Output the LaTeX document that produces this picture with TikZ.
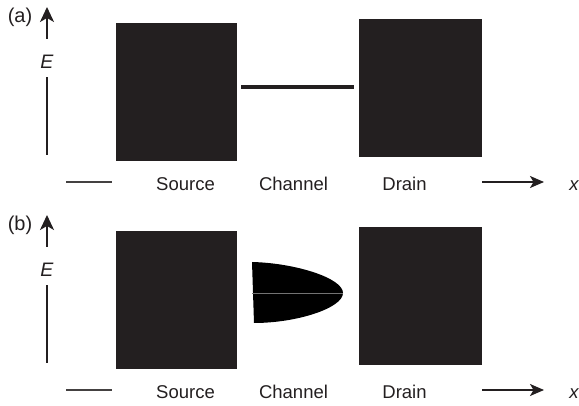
\documentclass[tikz,border=0pt]{standalone}
\usepackage{fontspec}
\setmainfont{Liberation Sans}
\usetikzlibrary{arrows.meta}
\definecolor{blk}{HTML}{231F20}
\begin{document}
\begin{tikzpicture}[x=1pt,y=-1pt,
  font=\fontsize{18.5}{22}\selectfont,
  block/.style={fill=blk, draw=none, inner sep=0pt, outer sep=0pt, anchor=north west},
  axisline/.style={line width=1.6pt, draw=blk},
  axisarrow/.style={line width=1.6pt, draw=blk, -{Stealth[length=15pt,width=14pt,inset=4pt]}},
  xarrow/.style={line width=1.6pt, draw=blk, -{Stealth[length=14pt,width=12pt,inset=3.5pt]}},
  dashline/.style={line width=1.4pt, draw=blk!85},
  lbl/.style={anchor=base, inner sep=0pt, text=blk}]
\useasboundingbox (0,0) rectangle (579,406);

\foreach \p/\dy in {a/0,b/208}{
  % blocks
  \node[block, minimum width=121pt, minimum height=138pt] (src\p) at (116,23+\dy) {};
  \node[block, minimum width=123pt, minimum height=138pt] (drn\p) at (359,19+\dy) {};
  % panel label
  \node[lbl, font=\fontsize{20}{24}\selectfont] (lab\p) at (20,23+\dy) {(\p)};
  % energy axis
  \coordinate (ybot\p) at (47,155+\dy);
  \coordinate (ylow\p) at (47,77+\dy);
  \coordinate (yhigh\p) at (47,39+\dy);
  \coordinate (ytop\p) at (47,7+\dy);
  \node[lbl, font=\fontsize{19.5}{24}\selectfont] (E\p) at (47,69+\dy) {\itshape E};
  \draw[axisline] (ybot\p) -- (ylow\p);
  \draw[axisarrow] (yhigh\p) -- (ytop\p);
  % position axis
  \coordinate (xl\p) at (66,182+\dy);
  \coordinate (xr\p) at (112,182+\dy);
  \draw[dashline] (xl\p) -- (xr\p);
  \coordinate (xs\p) at (482,182+\dy);
  \coordinate (xe\p) at (544,182+\dy);
  \draw[xarrow] (xs\p) -- (xe\p);
  \node[lbl] (xlab\p) at (574,191+\dy) {\itshape x};
  % region labels
  \node[lbl] (s\p) at (185.5,191+\dy) {Source};
  \node[lbl] (c\p) at (293.5,191+\dy) {Channel};
  \node[lbl] (d\p) at (404.5,191+\dy) {Drain};
}

% channel level (a)
\coordinate (cha1) at (241,87);
\coordinate (cha2) at (354,87);
\draw[line width=4pt, blk] (cha1) -- (cha2);

% channel states (b)
\fill[black] (252,262) .. controls (295,263) and (343,278) .. (343,293)
  .. controls (343,308) and (297,323) .. (254,323) -- cycle;
\draw[black!55, line width=0.6pt] (252,293) -- (343,293);
\end{tikzpicture}
\end{document}
